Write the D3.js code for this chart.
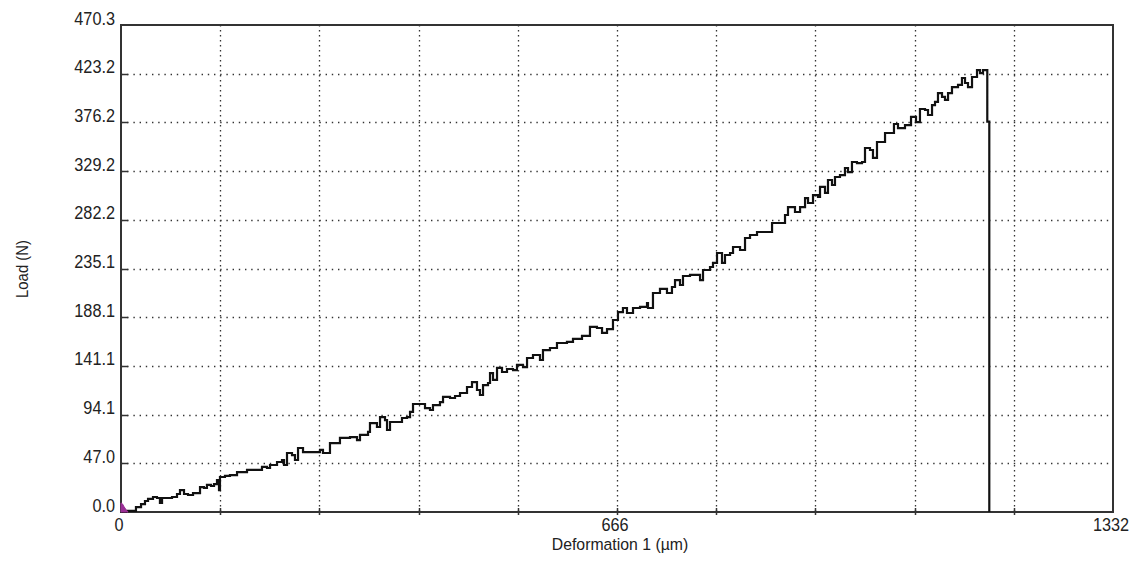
<!DOCTYPE html>
<html>
<head>
<meta charset="utf-8">
<script src="https://cdn.jsdelivr.net/npm/d3@7/dist/d3.min.js"></script>
<style>
  html, body { margin: 0; padding: 0; background: #fff; }
  svg { display: block; }
  text { font-family: "Liberation Sans", Arial, sans-serif; fill: #222; }
</style>
</head>
<body>
<svg id="chart" width="1137" height="561"></svg>
<script>
// ---- data ----
const deformation = [0,6.7,20.1,26.9,32.2,36.3,43.0,48.3,52.3,55.1,68.5,75.2,79.2,84.6,90.0,96.7,106.1,111.4,115.4,120.8,124.9,128.9,131.6,132.9,139.6,146.3,155.8,169.2,189.3,196.0,200.1,209.5,216.2,218.9,222.9,229.6,233.6,237.7,244.4,267.2,271.2,280.6,294.0,307.5,316.9,320.9,331.7,334.3,343.7,347.8,354.5,357.2,361.2,377.3,384.0,388.1,392.1,408.2,414.9,418.9,428.3,432.4,441.8,448.5,455.2,464.6,471.3,478.0,482.0,486.1,492.8,495.5,499.5,504.9,511.6,518.3,526.4,531.7,539.8,545.2,553.2,562.6,566.6,576.0,585.4,598.8,606.9,619.0,629.7,639.1,645.9,652.6,660.6,667.3,674.0,679.4,687.5,696.9,706.3,707.6,714.3,723.7,733.1,739.8,743.9,750.6,754.6,764.0,777.5,781.5,790.9,794.9,800.3,807.0,811.0,817.8,821.8,831.2,837.9,844.6,854.0,874.2,891.6,895.6,905.0,911.8,918.5,922.5,929.2,935.9,938.6,945.3,949.3,954.7,958.7,965.4,972.1,976.2,981.5,988.2,995.0,999.0,1005.7,1009.7,1015.1,1025.9,1037.9,1043.3,1052.7,1060.8,1067.5,1072.8,1079.6,1083.6,1089.0,1093.0,1097.0,1102.4,1106.4,1110.5,1115.8,1123.9,1129.2,1133.3,1137.3,1142.7,1149.4,1153.4,1157.4,1163.2,1165.9];
const load = [0,1.0,4.8,7.7,10.6,12.6,14.5,13.5,8.7,13.5,14.5,17.4,21.2,17.4,16.4,18.3,24.1,23.2,26.1,25.1,27.0,30.9,21.2,33.8,34.8,35.7,38.6,40.6,43.5,42.5,45.4,48.3,50.2,45.4,57.0,55.0,50.2,61.8,57.9,59.9,57.0,66.6,71.5,72.4,69.5,74.4,77.3,85.9,82.1,91.7,88.8,79.2,86.9,90.8,91.7,96.6,104.3,100.4,98.5,103.3,106.2,111.1,110.1,112.0,114.9,120.7,125.5,117.8,113.0,122.6,124.6,134.2,127.5,139.1,135.2,138.1,137.1,142.0,140.0,148.7,151.6,146.8,156.4,158.4,163.2,164.2,167.1,170.0,178.7,177.7,172.9,176.7,185.4,193.1,197.0,192.2,197.0,198.0,201.8,197.0,211.5,215.4,211.5,217.3,224.0,219.2,227.9,228.9,224.0,233.7,236.6,240.5,250.1,240.5,248.2,250.1,255.9,253.0,264.6,267.5,270.4,279.1,286.8,294.5,289.7,294.5,303.2,298.4,306.1,304.2,313.9,308.1,320.6,315.8,323.5,325.4,332.2,328.3,338.0,337.0,338.0,351.5,349.6,341.9,357.3,366.0,374.7,370.8,373.7,381.5,376.6,389.2,388.2,383.4,393.0,396.0,404.6,400.8,397.9,404.6,410.4,412.4,419.1,414.3,410.4,420.1,426.8,423.9,426.8,376.9,0];

// small purple trace at the origin
const purpleDeformation = [0, 2, 4, 7, 9.5];
const purpleLoad = [8.8, 7.8, 5.2, 2.0, 0];

const xTickValues = [0, 666, 1332];
const xTickLabels = ["0", "666", "1332"];
const yTickLabels = ["0.0","47.0","94.1","141.1","188.1","235.1","282.2","329.2","376.2","423.2","470.3"];
const xMax = 1332, yMax = 470.3;
const xGridCount = 10, yGridCount = 10;

// ---- layout ----
const L = 121, R = 1113, T = 25, B = 512;
const SX = 0.93; // condensed look of the original font
const svg = d3.select("#chart");
svg.append("rect").attr("width",1137).attr("height",561).attr("fill","#fff");

const x = d3.scaleLinear().domain([0, xMax]).range([L, R]);
const y = d3.scaleLinear().domain([0, yMax]).range([B, T]);

const xGrid = d3.range(1, xGridCount).map(i => i * xMax / xGridCount);
const yGrid = d3.range(1, yGridCount).map(i => i * yMax / yGridCount);

// grid
svg.append("g").selectAll("line").data(xGrid).join("line")
  .attr("x1", d => Math.round(x(d)) + 0.5).attr("x2", d => Math.round(x(d)) + 0.5)
  .attr("y1", T).attr("y2", B)
  .attr("stroke", "#333").attr("stroke-width", 1.3)
  .attr("stroke-dasharray", "1.4,3.6");
svg.append("g").selectAll("line").data(yGrid).join("line")
  .attr("y1", d => Math.round(y(d)) + 0.5).attr("y2", d => Math.round(y(d)) + 0.5)
  .attr("x1", L).attr("x2", R)
  .attr("stroke", "#333").attr("stroke-width", 1.3)
  .attr("stroke-dasharray", "1.4,4.8");

// tick marks
svg.append("g").selectAll("line").data(yGrid).join("line")
  .attr("y1", d => Math.round(y(d)) + 0.5).attr("y2", d => Math.round(y(d)) + 0.5)
  .attr("x1", L).attr("x2", L + 7)
  .attr("stroke", "#333").attr("stroke-width", 1.5);
svg.append("g").selectAll("line").data(xGrid).join("line")
  .attr("x1", d => Math.round(x(d)) + 0.5).attr("x2", d => Math.round(x(d)) + 0.5)
  .attr("y1", B - 4).attr("y2", B + 3)
  .attr("stroke", "#333").attr("stroke-width", 1.5);

// frame
svg.append("rect").attr("x", L).attr("y", T).attr("width", R - L).attr("height", B - T)
  .attr("fill", "none").attr("stroke", "#333").attr("stroke-width", 2);

// y tick labels
svg.append("g").selectAll("text").data(yTickLabels).join("text")
  .attr("transform", (d, i) => `translate(${L - 6},${y(i * yMax / yGridCount) - 0.5}) scale(${SX},1)`)
  .attr("text-anchor", "end")
  .attr("font-size", 17.5)
  .text(d => d);

// x tick labels
svg.append("g").selectAll("text").data(xTickValues).join("text")
  .attr("transform", d => `translate(${x(d) - 2},531) scale(${SX},1)`)
  .attr("text-anchor", "middle")
  .attr("font-size", 17.5)
  .text((d, i) => xTickLabels[i]);

// axis titles
svg.append("text").attr("transform", `translate(620,550) scale(${SX},1)`)
  .attr("text-anchor", "middle")
  .attr("font-size", 17).text("Deformation 1  (\u00b5m)");
svg.append("text")
  .attr("transform", `translate(28,269) rotate(-90) scale(${SX},1)`)
  .attr("text-anchor", "middle").attr("font-size", 16).text("Load (N)");

// main curve
const pts = deformation.map((d, i) => [d, load[i]]);
const line = d3.line().x(d => x(d[0])).y(d => y(d[1])).curve(d3.curveStepAfter);
svg.append("path").datum(pts).attr("d", line)
  .attr("fill", "none").attr("stroke", "#111").attr("stroke-width", 2.2)
  .attr("stroke-linejoin", "miter");

// purple trace
const ppts = purpleDeformation.map((d, i) => [d, purpleLoad[i]]);
const area = d3.area().x(d => x(d[0])).y0(y(0)).y1(d => y(d[1]));
svg.append("path").datum(ppts).attr("d", area)
  .attr("fill", "#9a2f96").attr("stroke", "#9a2f96").attr("stroke-width", 1);
</script>
</body>
</html>
